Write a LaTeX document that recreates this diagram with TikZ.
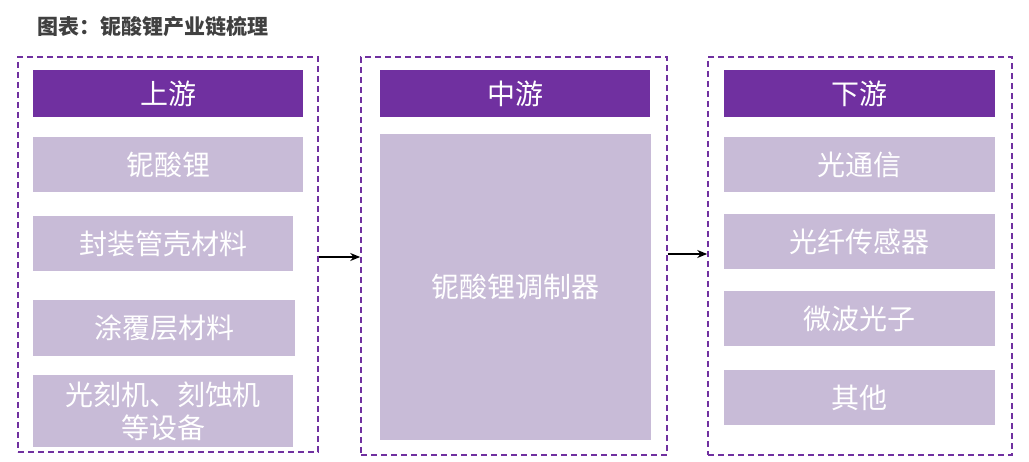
\documentclass[tikz,border=0pt]{standalone}
\usepackage{fontspec}
\setmainfont{Noto Sans CJK SC}
\usetikzlibrary{arrows.meta}
\definecolor{headpurple}{HTML}{7030A0}
\definecolor{itempurple}{HTML}{C8BBD7}
\tikzset{
  group/.style={draw=headpurple, line width=1.6pt, dash pattern=on 6pt off 4pt, inner sep=0pt},
  head/.style={fill=headpurple, text=white, inner sep=0pt, font=\fontsize{28}{30}\selectfont},
  item/.style={fill=itempurple, text=white, inner sep=0pt, align=center, font=\fontsize{28}{30}\selectfont},
  flow/.style={-{Stealth[length=10pt,width=8pt]}, line width=1.6pt}
}
\begin{document}
\begin{tikzpicture}[x=1pt,y=-1pt]
\useasboundingbox (0,0) rectangle (1029,462);
\node[anchor=west, text=black!75, font=\bfseries\fontsize{21}{23}\selectfont] (title) at (34,27) {图表：铌酸锂产业链梳理};

% upstream
\node[group, minimum width=300pt, minimum height=395pt] (up) at (168,254.5) {};
\node[head, minimum width=270pt, minimum height=47pt] (uph) at (168,93.5) {上游};
\node[item, minimum width=270pt, minimum height=55pt] (u1) at (168,164.5) {铌酸锂};
\node[item, minimum width=260pt, minimum height=55pt] (u2) at (163,243.5) {封装管壳材料};
\node[item, minimum width=262pt, minimum height=56pt] (u3) at (164,328) {涂覆层材料};
\node[item, minimum width=260pt, minimum height=72pt, font=\fontsize{28}{33}\selectfont] (u4) at (163,411) {光刻机、刻蚀机\\等设备};

% midstream
\node[group, minimum width=306pt, minimum height=398pt] (mid) at (514,256) {};
\node[head, minimum width=270pt, minimum height=47pt] (midh) at (515,93.5) {中游};
\node[item, minimum width=271pt, minimum height=306pt] (m1) at (515.5,287) {铌酸锂调制器};

% downstream
\node[group, minimum width=304pt, minimum height=398pt] (down) at (860,256) {};
\node[head, minimum width=271pt, minimum height=47pt] (downh) at (859.5,93.5) {下游};
\node[item, minimum width=271pt, minimum height=55pt] (d1) at (859.5,164.5) {光通信};
\node[item, minimum width=271pt, minimum height=55pt] (d2) at (859.5,241.5) {光纤传感器};
\node[item, minimum width=271pt, minimum height=55pt] (d3) at (859.5,318.5) {微波光子};
\node[item, minimum width=271pt, minimum height=55pt] (d4) at (859.5,397.5) {其他};

\draw[flow] (up.east |- 0,257) -- (mid.west |- 0,257);
\draw[flow] (mid.east |- 0,254) -- (down.west |- 0,254);
\end{tikzpicture}
\end{document}
